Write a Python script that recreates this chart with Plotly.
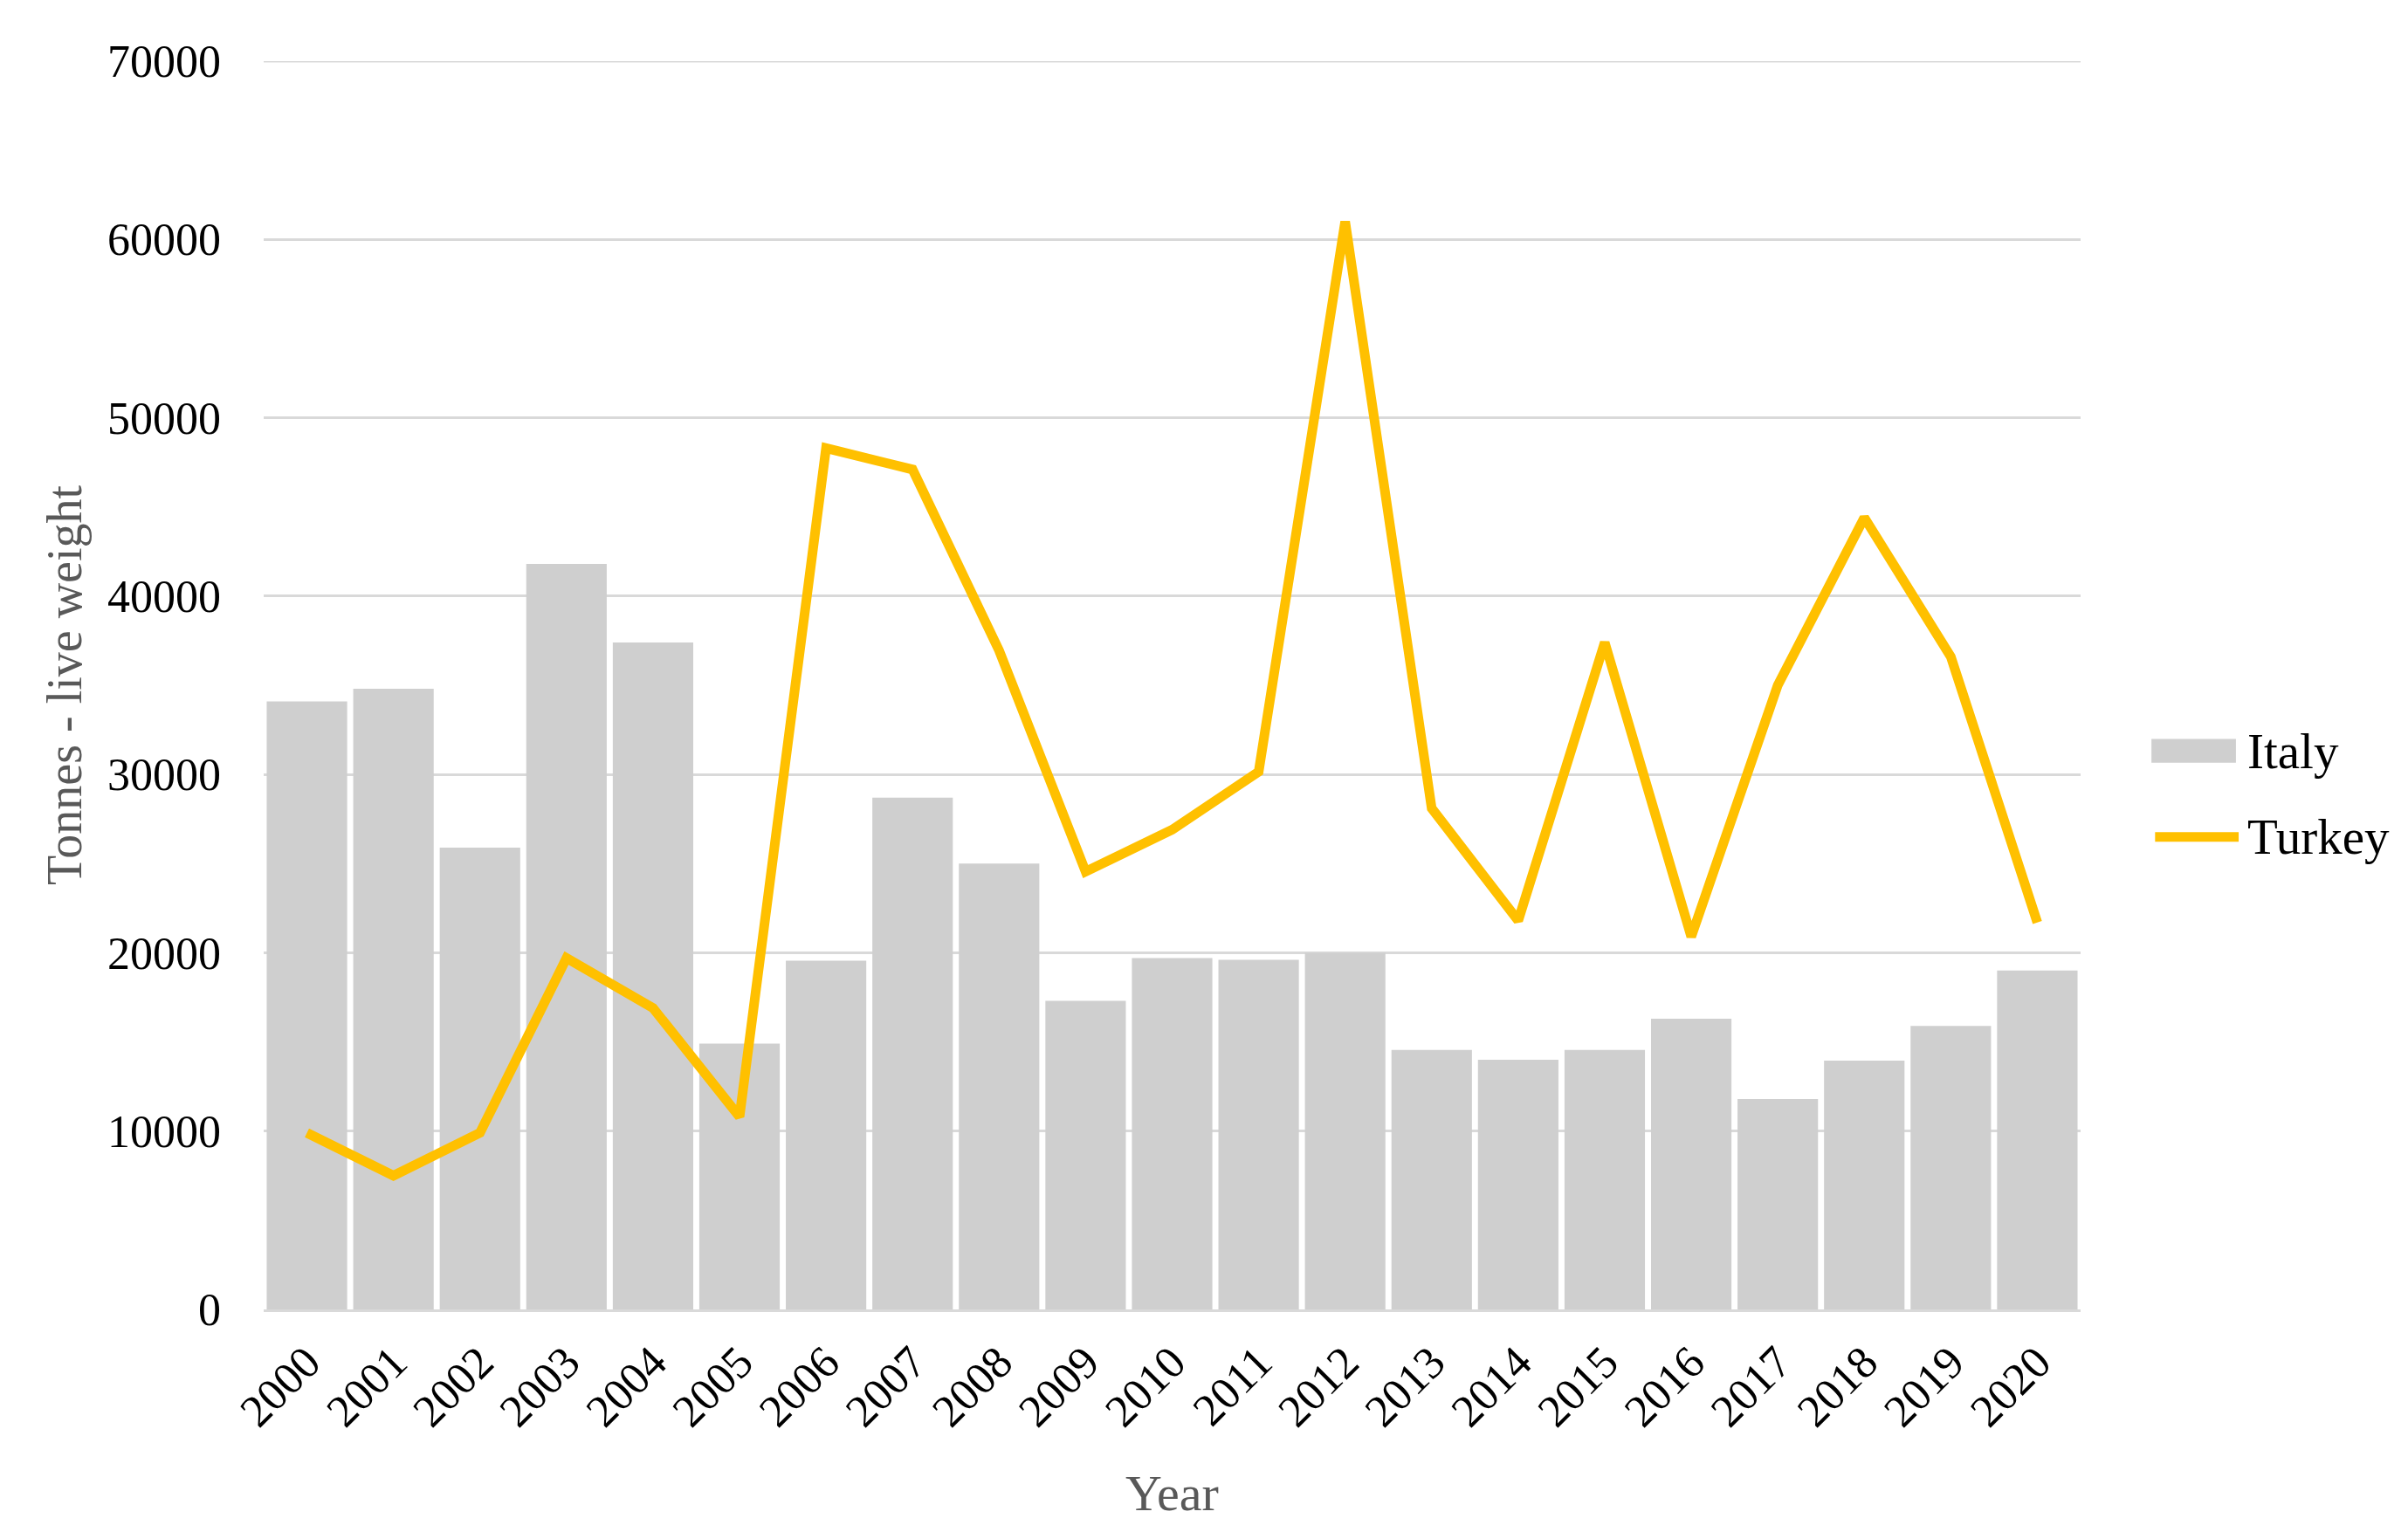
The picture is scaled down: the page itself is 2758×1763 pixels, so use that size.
import plotly.graph_objects as go

years = [str(y) for y in range(2000, 2021)]
italy = [34100, 34800, 25900, 41800, 37400, 14900, 19550, 28700, 25000, 17300,
         19700, 19600, 20000, 14550, 14000, 14550, 16300, 11800, 13950, 15900, 19000]
turkey = [9900, 7500, 9900, 19700, 16900, 10800, 48300, 47100, 36950, 24550,
          26900, 30150, 61000, 28100, 21800, 37400, 20900, 35000, 44400, 36600, 21700]
y_ticks = [0, 10000, 20000, 30000, 40000, 50000, 60000, 70000]

FONT = "Liberation Serif"
BAR_COLOR = "#CFCFCF"
LINE_COLOR = "#FFC000"
GRID = "#D9D9D9"

fig = go.Figure()
fig.add_trace(go.Bar(x=years, y=italy, name="Italy", marker=dict(color=BAR_COLOR, line=dict(width=0)),
                     showlegend=False))
fig.add_trace(go.Scatter(x=years, y=turkey, name="Turkey", mode="lines",
                         line=dict(color=LINE_COLOR, width=11, shape="linear"),
                         showlegend=False))

# top gridline (plotly omits the gridline on the range edge)
fig.add_hline(y=y_ticks[-1], line=dict(color=GRID, width=3), layer="below")

# manual legend
fig.add_shape(type="rect", xref="paper", yref="paper", x0=1.039, x1=1.0855, y0=0.438, y1=0.457,
              fillcolor=BAR_COLOR, line=dict(width=0))
fig.add_shape(type="line", xref="paper", yref="paper", x0=1.041, x1=1.087, y0=0.3785, y1=0.3785,
              line=dict(color=LINE_COLOR, width=11))
fig.add_annotation(text="Italy", xref="paper", yref="paper", x=1.091, y=0.4475, xanchor="left",
                   yanchor="middle", showarrow=False, font=dict(family=FONT, size=57, color="#000000"))
fig.add_annotation(text="Turkey", xref="paper", yref="paper", x=1.091, y=0.3785, xanchor="left",
                   yanchor="middle", showarrow=False, font=dict(family=FONT, size=57, color="#000000"))

# axis titles
fig.add_annotation(text="Tonnes - live weight", xref="paper", yref="paper", x=-0.1096, y=0.5,
                   xanchor="center", yanchor="middle", textangle=-90, showarrow=False,
                   font=dict(family=FONT, size=56, color="#595959"))
fig.add_annotation(text="Year", xref="paper", yref="paper", x=0.5, y=-0.1469,
                   xanchor="center", yanchor="middle", showarrow=False,
                   font=dict(family=FONT, size=58, color="#595959"))

fig.update_layout(
    width=2750, height=1755,
    margin=dict(l=294, r=375, t=62, b=263, autoexpand=False),
    paper_bgcolor="white", plot_bgcolor="white",
    bargap=0.07,
    font=dict(family=FONT, size=52, color="#000000"),
    xaxis=dict(
        type="category", tickangle=-45, showgrid=False, ticks="",
        showline=True, linecolor=GRID, linewidth=3,
        tickfont=dict(family=FONT, size=52, color="#000000"),
        ticklabelstandoff=6,
    ),
    yaxis=dict(
        range=[0, 70000], tickvals=y_ticks, ticktext=[str(v) for v in y_ticks],
        showgrid=True, gridcolor=GRID, gridwidth=3, zeroline=False, showline=False,
        ticks="", ticklabelstandoff=48,
        tickfont=dict(family=FONT, size=52, color="#000000"),
    ),
)

fig.write_html("out.html")
